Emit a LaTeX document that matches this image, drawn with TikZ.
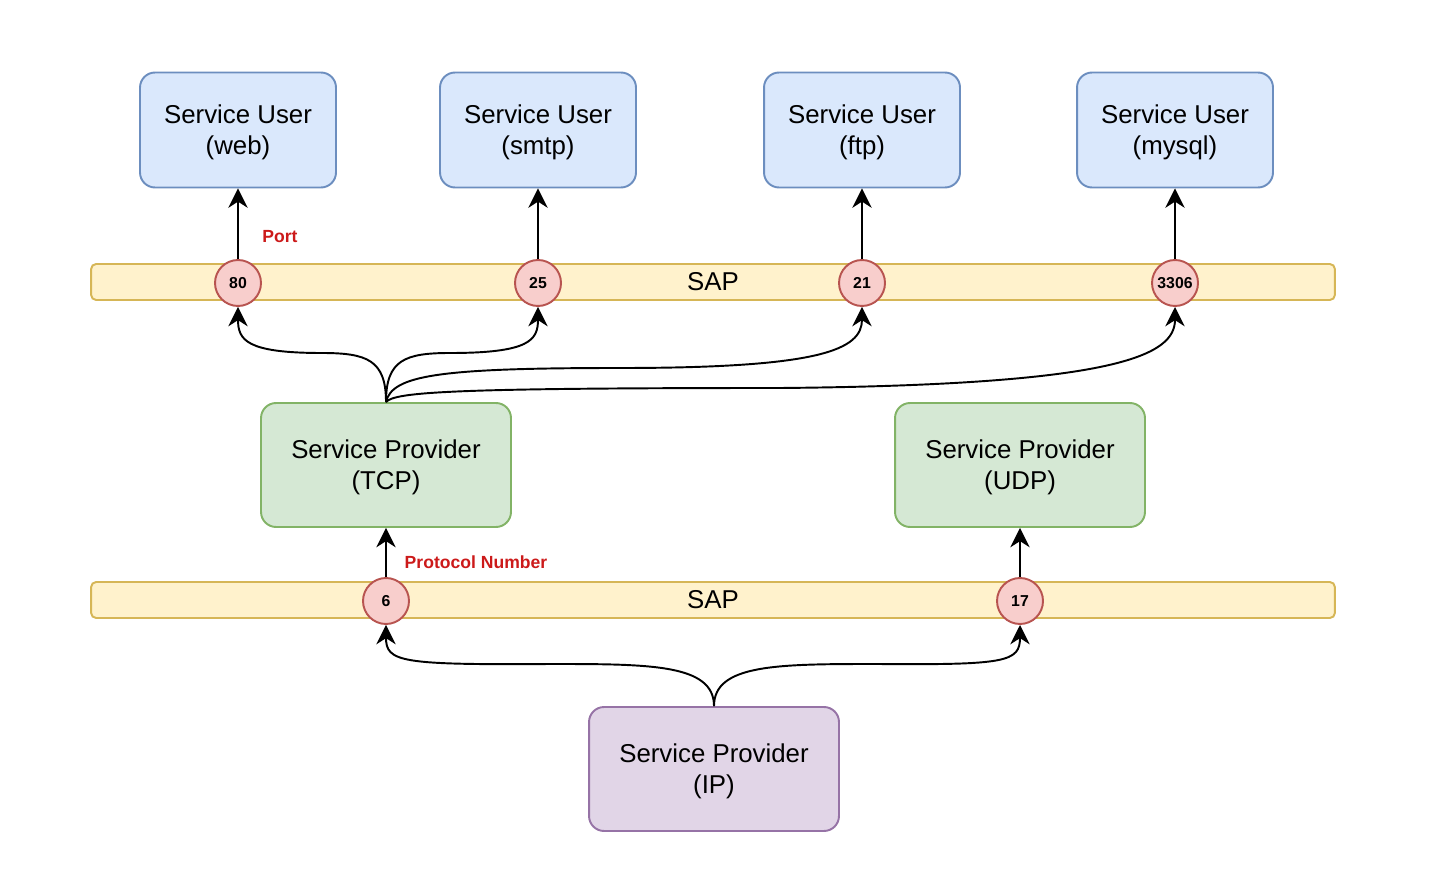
\documentclass[tikz,border=0pt]{standalone}
\usepackage{fontspec}
\setmainfont{Liberation Sans}
\usetikzlibrary{arrows.meta, positioning, calc}

\definecolor{userfill}{HTML}{DAE8FC}
\definecolor{userline}{HTML}{6C8EBF}
\definecolor{provfill}{HTML}{D5E8D4}
\definecolor{provline}{HTML}{82B366}
\definecolor{ipfill}{HTML}{E1D5E7}
\definecolor{ipline}{HTML}{9673A6}
\definecolor{sapfill}{HTML}{FFF2CC}
\definecolor{sapline}{HTML}{D6B656}
\definecolor{portfill}{HTML}{F8CECC}
\definecolor{portline}{HTML}{B85450}
\definecolor{labelred}{HTML}{CC1A1A}

\begin{document}
\begin{tikzpicture}[x=0.02cm, y=-0.02cm,
		font=\fontsize{14.7}{17.6}\selectfont,
		userbox/.style={draw=userline, fill=userfill, line width=1.1pt, rounded corners=0.3cm,
			minimum width=3.92cm, minimum height=2.3cm, align=center, inner sep=0pt, text depth=0pt},
		provbox/.style={draw=provline, fill=provfill, line width=1.1pt, rounded corners=0.3cm,
			minimum width=5cm, minimum height=2.48cm, align=center, inner sep=0pt, text depth=0pt},
		ipbox/.style={provbox, draw=ipline, fill=ipfill},
		sapbar/.style={draw=sapline, fill=sapfill, line width=1.1pt, rounded corners=0.1cm,
			minimum width=24.88cm, minimum height=0.72cm, inner sep=0pt},
		portdot/.style={circle, draw=portline, fill=portfill, line width=1.1pt,
			minimum size=0.92cm, inner sep=0pt, font=\fontsize{9}{10}\selectfont\bfseries},
		redlabel/.style={text=labelred, font=\fontsize{10}{12}\selectfont\bfseries},
		link/.style={line width=1.1pt, -{Stealth[length=11pt, width=11pt, inset=3.5pt]}}]
	\useasboundingbox (0,0) rectangle (1435,881);

	% service users
	\node[userbox] (userweb) at (238,130) {Service User\\(web)};
	\node[userbox] (usersmtp) at (538,130) {Service User\\(smtp)};
	\node[userbox] (userftp) at (862,130) {Service User\\(ftp)};
	\node[userbox] (usermysql) at (1175,130) {Service User\\(mysql)};

	% port SAP
	\node[sapbar] (sapport) at (713,282) {SAP};
	\node[portdot] (p80) at (238,283) {80};
	\node[portdot] (p25) at (538,283) {25};
	\node[portdot] (p21) at (862,283) {21};
	\node[portdot] (p3306) at (1175,283) {3306};
	\node[redlabel] (portlabel) at (280,237) {Port};

	% transport layer
	\node[provbox] (tcp) at (386,465) {Service Provider\\(TCP)};
	\node[provbox] (udp) at (1020,465) {Service Provider\\(UDP)};

	% protocol SAP
	\node[sapbar] (sapproto) at (713,600) {SAP};
	\node[portdot] (p6) at (386,601) {6};
	\node[portdot] (p17) at (1020,601) {17};
	\node[redlabel] (protolabel) at (476,562) {Protocol Number};

	\node[ipbox] (ip) at (714,769) {Service Provider\\(IP)};

	% ports up to users
	\draw[link] (p80) -- (userweb);
	\draw[link] (p25) -- (usersmtp);
	\draw[link] (p21) -- (userftp);
	\draw[link] (p3306) -- (usermysql);
	\draw[link] (p6) -- (tcp);
	\draw[link] (p17) -- (udp);

	% tcp to ports
	\draw[link] (tcp.north) .. controls (386,360) and (367,353) .. (322,353)
		.. controls (246,353) and (238,340) .. (p80.south);
	\draw[link] (tcp.north) .. controls (386,360) and (405,353) .. (450,353)
		.. controls (530,353) and (538,340) .. (p25.south);
	\draw[link] (tcp.north) .. controls (392,375) and (440,368) .. (620,368)
		.. controls (820,368) and (862,350) .. (p21.south);
	\draw[link] (tcp.north) .. controls (395,392) and (450,388) .. (780,388)
		.. controls (1120,385) and (1175,355) .. (p3306.south);

	% ip to protocols
	\draw[link] (ip.north) .. controls (714,664) and (650,664) .. (550,664)
		.. controls (400,665) and (386,662) .. (p6.south);
	\draw[link] (ip.north) .. controls (714,664) and (778,664) .. (878,664)
		.. controls (1006,665) and (1020,662) .. (p17.south);
\end{tikzpicture}
\end{document}
